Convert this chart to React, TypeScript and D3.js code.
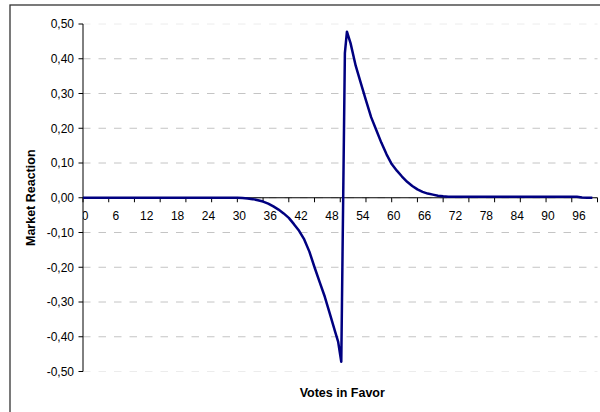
import React from "react";
import * as d3 from "d3";

const votes = [
  0, 1, 2, 3, 4, 5, 6, 7, 8, 9, 10, 11, 12, 13, 14, 15, 16, 17, 18, 19, 20,
  21, 22, 23, 24, 25, 26, 27, 28, 29, 30, 31, 32, 33, 34, 35, 36, 37, 38, 39,
  40, 41, 42, 43, 44, 45, 46, 47, 48, 49, 49.6, 50.2, 50.9, 51.3, 52, 53, 54,
  55, 56, 57, 58, 59, 60, 61, 62, 63, 64, 65, 66, 67, 68, 69, 70, 71, 72, 73,
  74, 75, 76, 77, 78, 79, 80, 81, 82, 83, 84, 85, 86, 87, 88, 89, 90, 91, 92,
  93, 94, 95, 96, 97, 98, 99, 100,
];

const reaction = [
  0, 0, 0, 0, 0, 0, 0, 0, 0, 0, 0, 0, 0, 0, 0, 0, 0, 0, 0, 0, 0,
  0, 0, 0, 0, 0, 0, 0, 0, 0, 0, -0.001, -0.002, -0.004, -0.007, -0.011, -0.017,
  -0.025, -0.034, -0.045, -0.058, -0.076, -0.095, -0.12, -0.155, -0.2, -0.243,
  -0.285, -0.335, -0.385, -0.415, -0.472, 0.416, 0.478, 0.445, 0.38, 0.33,
  0.28, 0.232, 0.195, 0.158, 0.125, 0.097, 0.078, 0.061, 0.046, 0.034, 0.024,
  0.017, 0.012, 0.009, 0.006, 0.004, 0.003, 0.003, 0.003, 0.003, 0.003, 0.003,
  0.003, 0.003, 0.003, 0.003, 0.003, 0.003, 0.003, 0.003, 0.003, 0.003, 0.003,
  0.003, 0.003, 0.003, 0.003, 0.003, 0.003, 0.003, 0.003, 0.003, 0.001, 0, 0,
];

const yTicks = [-0.5, -0.4, -0.3, -0.2, -0.1, 0, 0.1, 0.2, 0.3, 0.4, 0.5];
const xLabels = [0, 6, 12, 18, 24, 30, 36, 42, 48, 54, 60, 66, 72, 78, 84, 90, 96];
const xTicks = [0, 5, 10, 15, 20, 25, 30, 35, 40, 45, 50, 55, 60, 65, 70, 75, 80, 85, 90, 95, 100];

const W = 600;
const H = 412;
const FONT = "'Liberation Sans', Arial, sans-serif";

export default function App() {
  const x = d3.scaleLinear().domain([0, 100]).range([83, 597.5]);
  const y = d3.scaleLinear().domain([-0.5, 0.5]).range([371.5, 24]);
  const fmt = (v: number) => d3.format(".2f")(v).replace(".", ",").replace("−", "-");
  const pts: [number, number][] = votes.map((v, i) => [v, reaction[i]]);
  const line = d3
    .line<[number, number]>()
    .x((d) => x(d[0]))
    .y((d) => y(d[1]));
  const y0 = y(0);

  return (
    <svg
      width={W}
      height={H}
      style={{ position: "fixed", left: 0, top: 0, background: "#fff" }}
      fontFamily={FONT}
    >
      <rect x={0} y={0} width={W} height={H} fill="#fff" />
      <rect x={10} y={5} width={W + 20} height={H + 20} fill="none" stroke="#333" strokeWidth={1.3} />
      <defs>
        <clipPath id="xlab">
          <rect x={x(0)} y={0} width={W} height={H} />
        </clipPath>
      </defs>
      {yTicks.map((t) => (
        <line
          key={"g" + t}
          x1={x(0)}
          x2={x(100)}
          y1={y(t)}
          y2={y(t)}
          stroke={Math.abs(t) === 0.5 ? "#ececec" : "#c4c4c4"}
          strokeWidth={1}
          strokeDasharray="7.5 8"
        />
      ))}
      <line x1={x(0)} x2={x(0)} y1={y(0.5)} y2={y(-0.5)} stroke="#000" strokeWidth={1} />
      {yTicks.map((t) => (
        <g key={"y" + t}>
          <line x1={x(0) - 4.5} x2={x(0)} y1={y(t)} y2={y(t)} stroke="#000" strokeWidth={1} />
          <text x={74} y={y(t)} dy="0.36em" textAnchor="end" fontSize={12} fill="#000">
            {fmt(t)}
          </text>
        </g>
      ))}
      <line x1={x(0)} x2={x(100)} y1={y0} y2={y0} stroke="#000" strokeWidth={1} />
      {xTicks.map((t) => (
        <line key={"xt" + t} x1={x(t)} x2={x(t)} y1={y0} y2={y0 + 4.5} stroke="#000" strokeWidth={1} />
      ))}
      <g clipPath="url(#xlab)">
        {xLabels.map((t) => (
          <text key={"xl" + t} x={x(t) + 2} y={220} textAnchor="middle" fontSize={12} fill="#000">
            {t}
          </text>
        ))}
      </g>
      <path d={line(pts) || ""} fill="none" stroke="#000080" strokeWidth={2.5} strokeLinejoin="round" />
      <text
        transform={`translate(34.5, ${(y(0.5) + y(-0.5)) / 2}) rotate(-90)`}
        textAnchor="middle"
        fontSize={12.5}
        fontWeight="bold"
        fill="#000"
      >
        Market Reaction
      </text>
      <text x={(x(0) + x(100)) / 2 + 2} y={396.5} textAnchor="middle" fontSize={12.5} fontWeight="bold" fill="#000">
        Votes in Favor
      </text>
    </svg>
  );
}
